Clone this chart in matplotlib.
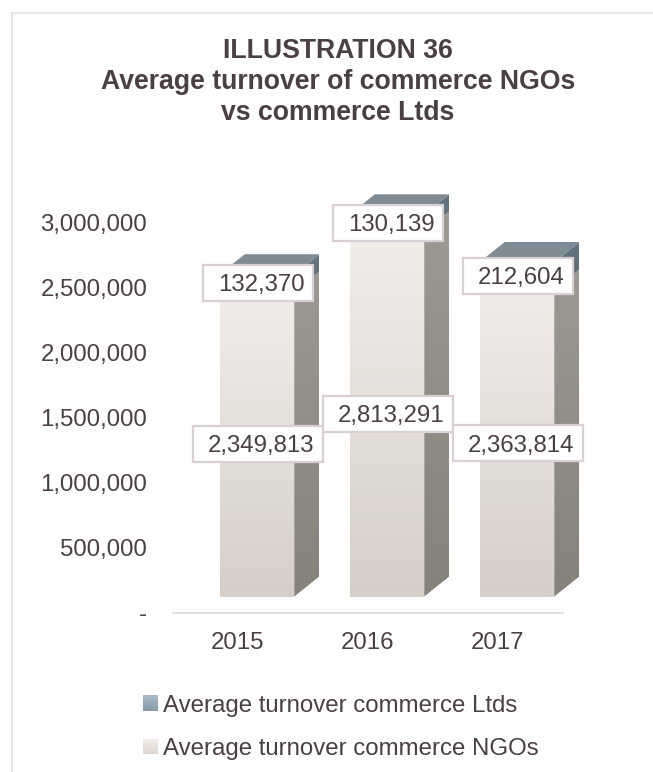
import numpy as np
import matplotlib
matplotlib.use("Agg")
import matplotlib.pyplot as plt
from matplotlib.patches import Polygon, Rectangle
from matplotlib.colors import LinearSegmentedColormap, to_rgb
from matplotlib.legend_handler import HandlerBase

years = ["2015", "2016", "2017"]
ngos = [2349813, 2813291, 2363814]
ltds = [132370, 130139, 212604]
yticks = [0, 500000, 1000000, 1500000, 2000000, 2500000, 3000000]
ytick_labels = ["-", "500,000", "1,000,000", "1,500,000", "2,000,000", "2,500,000", "3,000,000"]

plt.rcParams["font.family"] = ["Liberation Sans", "DejaVu Sans"]
TXT = "#4a3f43"
W, H = 653, 772

fig = plt.figure(figsize=(W / 100, H / 100), dpi=100)
# el eje va de 173 a 563 px en x, y de 612.5 a 223 px en y
ax = fig.add_axes([173 / W, 1 - 612.5 / H, 390 / W, 389.5 / H])

# el frente de las barras flota 16 px sobre el piso, con profundidad 25 x 20 px
px_y = 3000000 / 389.5
px_x = 3 / 390
floor = 16 * px_y
dx, dy = 25 * px_x, 20 * px_y
shift, bw = 19 * px_x, 74.5 * px_x


def grad(poly, top, bottom, y0, y1, z):
    # rellena un poligono con degradado vertical
    cmap = LinearSegmentedColormap.from_list("g", [bottom, top])
    xs = [p[0] for p in poly]
    im = ax.imshow(np.linspace(1, 0, 64).reshape(-1, 1), cmap=cmap, aspect="auto",
                   extent=[min(xs), max(xs), y0, y1], zorder=z, vmin=0, vmax=1)
    pg = Polygon(poly, closed=True, transform=ax.transData, fc="none", ec="none", clip_on=False)
    ax.add_patch(pg)
    im.set_clip_box(fig.bbox)
    im.set_clip_path(pg)
    return im


for i in range(len(years)):
    x0 = i + shift - bw / 2
    x1 = x0 + bw
    b = floor
    m = floor + ngos[i]
    t = m + ltds[i]
    z = 2 + i
    grad([(x0, b), (x1, b), (x1, t), (x0, t)], "#f3efeb", "#d6cfc8", b, t, z)
    grad([(x1, b), (x1 + dx, b + dy), (x1 + dx, m + dy), (x1, m)], "#9c9992", "#85827a", b, m + dy, z)
    grad([(x1, m), (x1 + dx, m + dy), (x1 + dx, t + dy), (x1, t)], "#667680", "#5a6a74", m, t + dy, z)
    ax.add_patch(Polygon([(x0, t), (x1, t), (x1 + dx, t + dy), (x0 + dx, t + dy)],
                         closed=True, fc="#7f8b94", ec="none", zorder=z, clip_on=False))

# etiquetas con caja blanca, el numero va un poco a la derecha del centro
for i in range(len(years)):
    xc = i + shift + 1 * px_x
    for val, base in ((ngos[i], 0), (ltds[i], ngos[i])):
        yc = floor + base + val / 2
        bw_lab = (130 if val > 1000000 else 110) * px_x
        bh_lab = 36 * px_y
        ax.add_patch(Rectangle((xc - bw_lab / 2, yc - bh_lab / 2), bw_lab, bh_lab, fc="white",
                               ec="#d9cfd5", lw=1.6, zorder=10, clip_on=False))
        ax.text(xc + 3 * px_x, yc, format(val, ","), ha="center", va="center_baseline",
                fontsize=17.3, color=TXT, zorder=11)

ax.set_xlim(-0.5, 2.5)
ax.set_ylim(0, 3000000)
ax.set_xticks(range(len(years)))
ax.set_xticklabels(years)
ax.set_yticks(yticks)
ax.set_yticklabels(ytick_labels)
ax.tick_params(axis="x", length=0, pad=14, labelsize=17.3, labelcolor=TXT)
ax.tick_params(axis="y", length=0, pad=18.5, labelsize=17.3, labelcolor=TXT)
for s in ("top", "left", "right"):
    ax.spines[s].set_visible(False)
ax.spines["bottom"].set_color("#e6dfe2")
ax.spines["bottom"].set_linewidth(1.5)
ax.patch.set_alpha(0)

fig.text(338 / W, 1 - 82 / H, "ILLUSTRATION 36\nAverage turnover of commerce NGOs\nvs commerce Ltds",
         ha="center", va="center", fontsize=19.2, fontweight="bold", color=TXT, linespacing=1.24)


class GradHandler(HandlerBase):
    # cuadrito de leyenda con degradado a franjas
    def create_artists(self, legend, orig, xd, yd, width, height, fontsize, trans):
        c0 = np.array(to_rgb(orig[0]))
        c1 = np.array(to_rgb(orig[1]))
        n = 8
        return [Rectangle((-xd, -yd + height * k / n), width, height / n + 0.1, fc=c1 + (c0 - c1) * k / (n - 1),
                          ec="none", transform=trans) for k in range(n)]


handles = [("#a8b9c5", "#8a9ba8"), ("#f0ece7", "#dbd5cd")]
ax.legend(handles, ["Average turnover commerce Ltds", "Average turnover commerce NGOs"],
          handler_map={tuple: GradHandler()},
          loc="upper left", bbox_to_anchor=(136 / W, 1 - 687.5 / H), bbox_transform=fig.transFigure,
          frameon=False, fontsize=17.3, labelcolor=TXT, handlelength=0.6, handleheight=0.6,
          handletextpad=0.24, labelspacing=0.9, borderpad=0.3, borderaxespad=0)

# marco exterior, solo arriba y a la izquierda
for xs, ys in (((11.5, 11.5), (772, 12.5)), ((11.5, 653), (12.5, 12.5))):
    fig.add_artist(plt.Line2D([x / W for x in xs], [1 - y / H for y in ys], color="#e8e3e5", lw=1.3))

fig.savefig("out.png", dpi=100)
